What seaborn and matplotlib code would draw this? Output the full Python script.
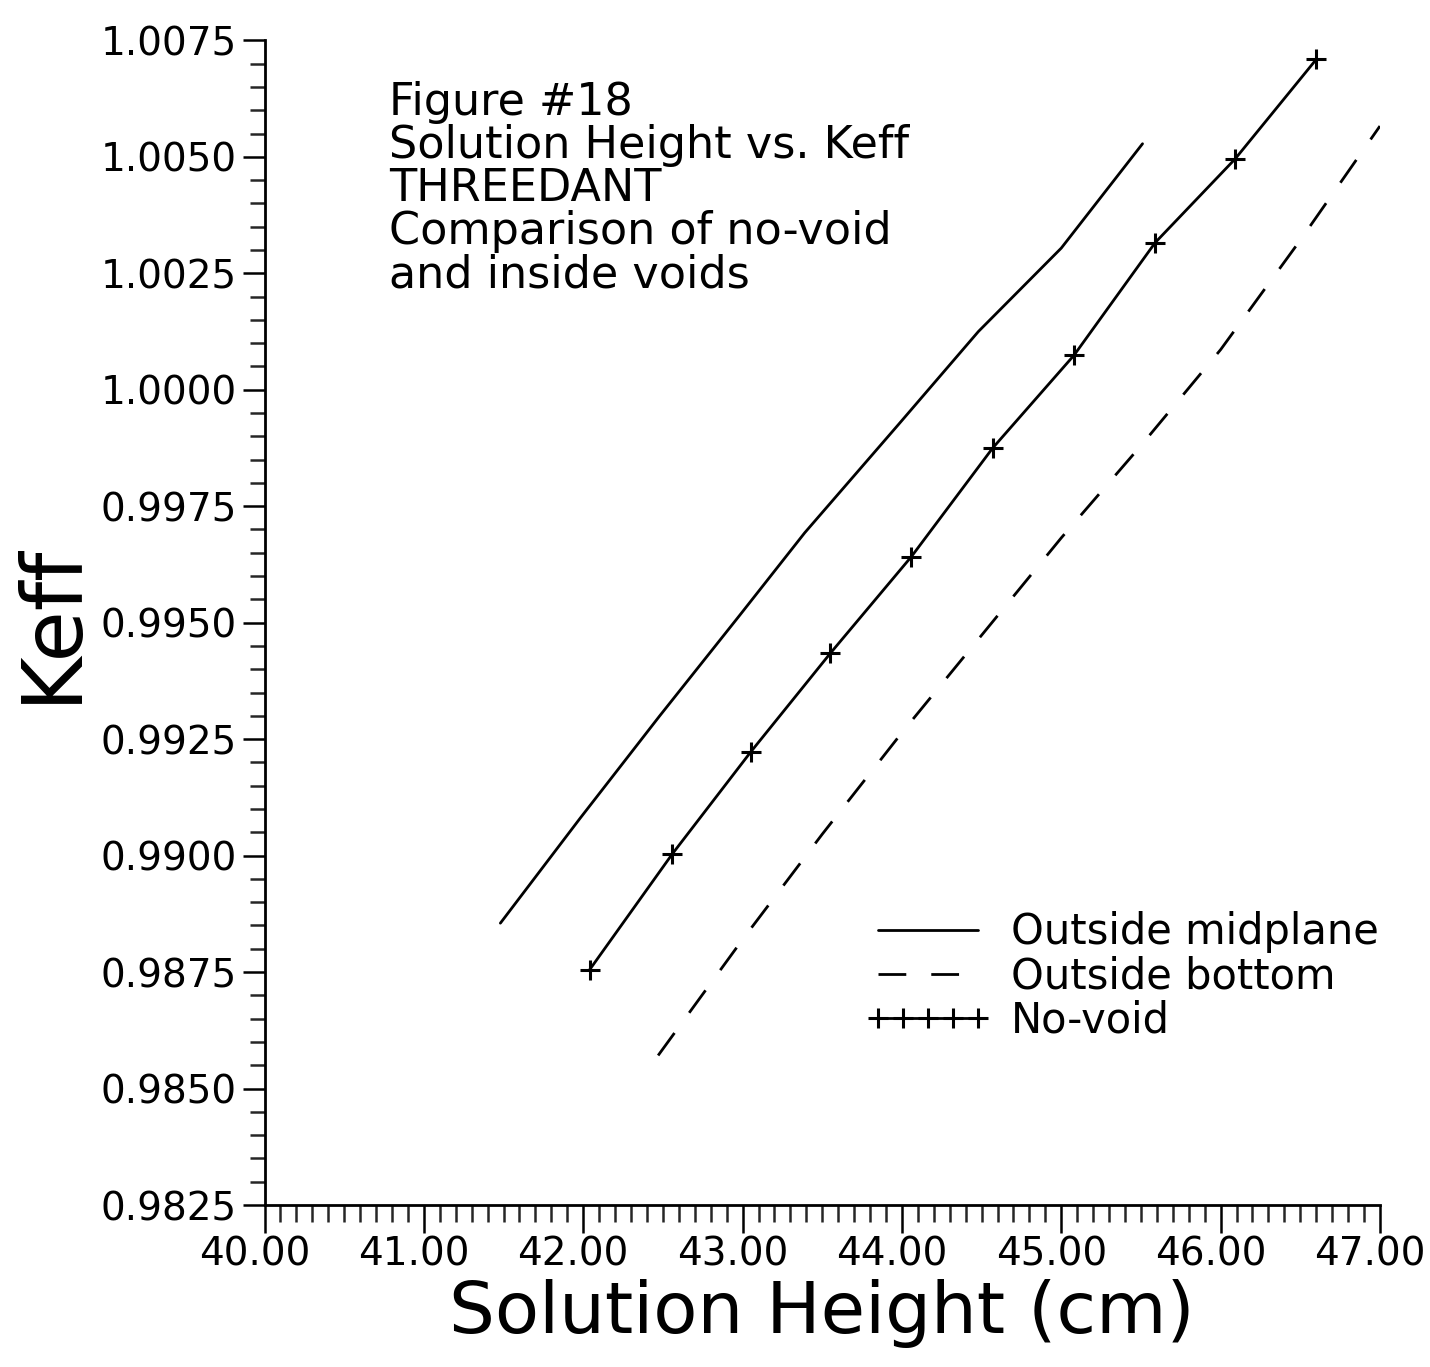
import matplotlib
matplotlib.use("Agg")
import matplotlib.pyplot as plt
import matplotlib.transforms as mtransforms
from matplotlib.ticker import MultipleLocator, FormatStrFormatter
import seaborn as sns

# -------- data --------
mid_height = [41.48, 41.98, 42.48, 42.98, 43.39, 43.98, 44.48, 45.00, 45.51]
mid_keff = [0.98855, 0.9908, 0.9930, 0.99515, 0.99693, 0.99926, 1.00125, 1.00304, 1.00528]

bottom_height = [42.47, 43.00, 43.50, 44.00, 44.50, 45.00, 45.50, 46.00, 46.50, 47.00]
bottom_keff = [0.98571, 0.9882, 0.99046, 0.99264, 0.99473, 0.99682, 0.9988, 1.00086, 1.00321, 1.00566]

novoid_height = [42.04, 42.56, 43.05, 43.55, 44.06, 44.57, 45.08, 45.59, 46.09, 46.60]
novoid_keff = [0.98755, 0.99004, 0.99222, 0.99434, 0.99642, 0.99875, 1.00074, 1.00316, 1.00495, 1.00709]

series_labels = ["Outside midplane", "Outside bottom", "No-void"]
note_lines = ["Figure #18", "Solution Height vs. Keff", "THREEDANT",
              "Comparison of no-void", "and inside voids"]

sns.set_style("ticks")
plt.rcParams["font.family"] = ["DejaVu Sans"]
plt.rcParams["text.color"] = "black"
plt.rcParams["axes.labelcolor"] = "black"

fig = plt.figure(figsize=(14.3, 13.67), dpi=100)
ax = fig.add_axes([0.185, 0.1185, 0.780, 0.852])

sns.lineplot(x=mid_height, y=mid_keff, ax=ax, color="black", lw=2,
             label=series_labels[0], sort=False)
sns.lineplot(x=bottom_height, y=bottom_keff, ax=ax, color="black", lw=2,
             label=series_labels[1], sort=False)
ax.lines[-1].set_dashes((10, 9))
sns.lineplot(x=novoid_height, y=novoid_keff, ax=ax, color="black", lw=2,
             marker="+", markersize=14, markeredgewidth=2.2,
             markeredgecolor="black", label=series_labels[2], sort=False)

# -------- axes --------
ax.set_xlim(40.0, 47.0)
ax.set_ylim(0.9825, 1.0075)
ax.xaxis.set_major_locator(MultipleLocator(1.0))
ax.xaxis.set_minor_locator(MultipleLocator(0.1))
ax.yaxis.set_major_locator(MultipleLocator(0.0025))
ax.yaxis.set_minor_locator(MultipleLocator(0.0005))
ax.xaxis.set_major_formatter(FormatStrFormatter("%.2f"))
ax.yaxis.set_major_formatter(FormatStrFormatter("%.4f"))

ax.tick_params(axis="both", which="major", direction="out", width=1.8,
               labelsize=28, colors="black")
ax.tick_params(axis="x", which="major", length=20, pad=2)
ax.tick_params(axis="x", which="minor", length=12, width=1.8, direction="out")
ax.tick_params(axis="y", which="major", length=16, pad=4)
ax.tick_params(axis="y", which="minor", length=11, width=1.8, direction="out")

# the x labels sit a little left of their ticks in the original
shift = mtransforms.ScaledTranslation(-10 / 100, 0, fig.dpi_scale_trans)
for lbl in ax.get_xticklabels():
    lbl.set_transform(lbl.get_transform() + shift)

sns.despine(ax=ax)
for side in ["left", "bottom"]:
    ax.spines[side].set_linewidth(2)
    ax.spines[side].set_color("black")

ax.set_xlabel("Solution Height (cm)", fontsize=52, labelpad=4)
ax.set_ylabel("Keff", fontsize=60, labelpad=6)

ax.text(0.112, 0.965, "\n".join(note_lines), transform=ax.transAxes,
        fontsize=32, va="top", ha="left", linespacing=1.0)

ax.legend(loc="upper left", bbox_to_anchor=(0.52, 0.27), frameon=False,
          fontsize=30, handlelength=3.0, handletextpad=0.5,
          labelspacing=0.05, borderpad=0, numpoints=5)

fig.savefig("out.png", dpi=100)
plt.close(fig)
